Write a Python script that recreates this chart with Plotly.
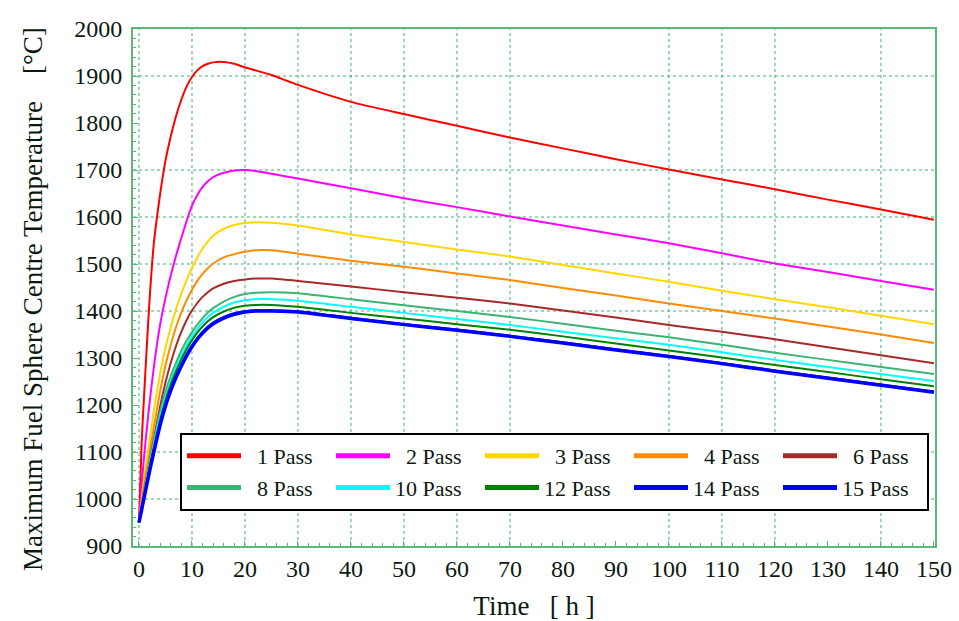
import plotly.graph_objects as go

# Time axis (hours) shared by every pass curve
time_h = [0, 0.5, 1, 1.5, 2, 2.5, 3, 4, 5, 6, 7, 8, 9, 10, 11, 12, 13, 14, 16, 18, 20, 22, 25, 30,
          40, 50, 60, 70, 80, 90, 100, 110, 120, 130, 140, 150]

# Maximum fuel sphere centre temperature (°C) per number of passes
temp_1 = [950, 1120, 1228, 1330, 1425, 1505, 1565, 1650, 1720, 1772, 1815, 1850, 1878, 1898, 1912, 1921, 1926, 1929,
          1930, 1926, 1918, 1912, 1902, 1881,
          1845, 1819, 1794, 1769, 1746, 1723, 1701, 1680, 1659, 1637, 1616, 1594]
temp_2 = [950, 1030, 1095, 1152, 1205, 1253, 1298, 1372, 1428, 1476, 1518, 1556, 1592, 1624, 1647, 1664, 1676, 1685,
          1694, 1699, 1700, 1698, 1692, 1682,
          1661, 1640, 1621, 1601, 1582, 1563, 1544, 1523, 1501, 1483, 1464, 1445]
temp_3 = [950, 1000, 1045, 1085, 1125, 1165, 1203, 1268, 1322, 1366, 1404, 1437, 1466, 1492, 1514, 1533, 1548, 1560,
          1575, 1583, 1587, 1589, 1588, 1582,
          1563, 1547, 1531, 1516, 1498, 1480, 1462, 1443, 1425, 1408, 1390, 1372]
temp_4 = [950, 992, 1030, 1065, 1098, 1133, 1166, 1230, 1284, 1328, 1366, 1397, 1423, 1445, 1464, 1479, 1491, 1501,
          1514, 1521, 1526, 1529, 1529, 1522,
          1507, 1494, 1480, 1466, 1449, 1433, 1416, 1400, 1384, 1367, 1350, 1332]
temp_6 = [950, 985, 1018, 1048, 1078, 1110, 1140, 1198, 1248, 1290, 1326, 1356, 1381, 1401, 1417, 1430, 1440, 1448,
          1458, 1464, 1467, 1469, 1469, 1464,
          1452, 1440, 1428, 1416, 1401, 1386, 1370, 1356, 1340, 1323, 1306, 1289]
temp_8 = [950, 984, 1016, 1047, 1077, 1106, 1134, 1186, 1228, 1262, 1290, 1316, 1337, 1355, 1371, 1385, 1397, 1406,
          1420, 1430, 1436, 1439, 1440, 1438,
          1425, 1412, 1400, 1387, 1373, 1358, 1344, 1328, 1311, 1296, 1281, 1266]
temp_10 = [950, 982, 1013, 1043, 1072, 1100, 1127, 1177, 1218, 1252, 1280, 1305, 1327, 1346, 1362, 1376, 1387, 1396,
           1409, 1418, 1423, 1425, 1425, 1422,
           1409, 1396, 1383, 1370, 1356, 1342, 1328, 1312, 1296, 1281, 1266, 1251]
temp_12 = [950, 980, 1010, 1039, 1067, 1094, 1120, 1169, 1210, 1244, 1272, 1297, 1319, 1338, 1354, 1367, 1378, 1387,
           1399, 1407, 1411, 1413, 1413, 1409,
           1396, 1384, 1372, 1360, 1346, 1331, 1316, 1301, 1285, 1270, 1255, 1240]
temp_14 = [950, 978, 1006, 1034, 1061, 1087, 1112, 1160, 1200, 1233, 1261, 1285, 1307, 1326, 1342, 1355, 1366, 1375,
           1387, 1395, 1399, 1401, 1401, 1399,
           1385, 1372, 1360, 1347, 1333, 1318, 1304, 1289, 1273, 1258, 1243, 1228]
temp_15 = [950, 977, 1005, 1032, 1059, 1085, 1110, 1158, 1198, 1231, 1259, 1283, 1305, 1324, 1340, 1353, 1364, 1373,
           1385, 1393, 1398, 1400, 1400, 1398,
           1384, 1371, 1359, 1346, 1332, 1317, 1303, 1288, 1272, 1257, 1242, 1227]

pass_labels = ["1 Pass", "2 Pass", "3 Pass", "4 Pass", "6 Pass",
               "8 Pass", "10 Pass", "12 Pass", "14 Pass", "15 Pass"]
series = [temp_1, temp_2, temp_3, temp_4, temp_6,
          temp_8, temp_10, temp_12, temp_14, temp_15]
colors = ["#ff0000", "#ff00ff", "#ffd700", "#ff8c00", "#a52a2a",
          "#3cb371", "#00ffff", "#008000", "#0000ff", "#0000ff"]
widths = [2, 2, 2, 2, 2, 2, 2, 2, 2.5, 3.5]

# Reference grid positions
grid_x = [0, 10, 20, 30, 40, 50, 60, 70, 100, 110, 120, 140]
grid_y = [1000, 1100, 1400, 1500, 1600, 1700, 1900]

FONT = "Liberation Serif, Times New Roman, serif"
TEXT = "#0b1a0f"
GREEN = "#5cb87a"
GRID = "#3cb371"

fig = go.Figure()
for label, vals, col, w in zip(pass_labels, series, colors, widths):
    fig.add_trace(go.Scatter(
        x=time_h, y=vals, mode="lines", name=label, legendgroup=label,
        showlegend=False,
        line=dict(color=col, width=w, shape="spline", smoothing=0.5),
    ))

# Legend keys use a heavier stroke than the curves; each key toggles its curve
for label, col in zip(pass_labels, colors):
    # pad single-digit labels so the legend text lines up on the right
    name = ("\u00a0\u00a0" + label) if len(label.split()[0]) == 1 else label
    fig.add_trace(go.Scatter(
        x=[None], y=[None], mode="lines", name=name, legendgroup=label,
        line=dict(color=col, width=5), hoverinfo="skip",
    ))

shapes = []
for gx in grid_x:
    shapes.append(dict(type="line", xref="x", yref="paper", x0=gx, x1=gx, y0=0, y1=1,
                       line=dict(color=GRID, width=1, dash="dot"), layer="below"))
for gy in grid_y:
    shapes.append(dict(type="line", xref="paper", yref="y", x0=0, x1=1, y0=gy, y1=gy,
                       line=dict(color=GRID, width=1, dash="dot"), layer="below"))

fig.update_layout(
    width=959, height=621,
    margin=dict(l=133, r=24, t=29, b=75),
    paper_bgcolor="white", plot_bgcolor="white",
    font=dict(family=FONT, size=24, color=TEXT),
    shapes=shapes,
    showlegend=True,
    legend=dict(
        orientation="h", x=0.0586, xanchor="left", y=0.2186, yanchor="top",
        bgcolor="white", bordercolor="black", borderwidth=2,
        itemwidth=54, entrywidth=80, entrywidthmode="pixels",
        font=dict(family=FONT, size=22, color=TEXT),
        traceorder="normal", tracegroupgap=0,
    ),
    xaxis=dict(
        range=[-1.13, 150.2], tickmode="linear", tick0=0, dtick=10,
        showgrid=False, zeroline=False, automargin=False,
        showline=True, linecolor=GREEN, linewidth=2, mirror=True,
        ticks="inside", ticklen=5, tickcolor=GREEN, tickwidth=1,
        minor=dict(dtick=2, ticks="inside", ticklen=3, tickcolor=GREEN, showgrid=False),
        tickfont=dict(family=FONT, size=24, color=TEXT),
        ticklabelstandoff=0,
        title=dict(text="Time   [ h ]", font=dict(family=FONT, size=27, color=TEXT), standoff=25),
    ),
    yaxis=dict(
        range=[900, 2000], tickmode="linear", tick0=900, dtick=100,
        showgrid=False, zeroline=False, automargin=False,
        showline=True, linecolor=GREEN, linewidth=2, mirror=True,
        ticks="inside", ticklen=5, tickcolor=GREEN, tickwidth=1,
        minor=dict(dtick=20, ticks="inside", ticklen=3, tickcolor=GREEN, showgrid=False),
        tickfont=dict(family=FONT, size=24, color=TEXT),
        ticklabelstandoff=4,
    ),
    annotations=[dict(
        text="Maximum Fuel Sphere Centre Temperature\u00a0\u00a0\u00a0\u00a0[°C]",
        xref="paper", yref="paper", x=-0.1247, y=0.4778,
        xanchor="center", yanchor="middle", textangle=-90, showarrow=False,
        font=dict(family=FONT, size=27, color=TEXT),
    )],
)

fig.write_html("out.html")
